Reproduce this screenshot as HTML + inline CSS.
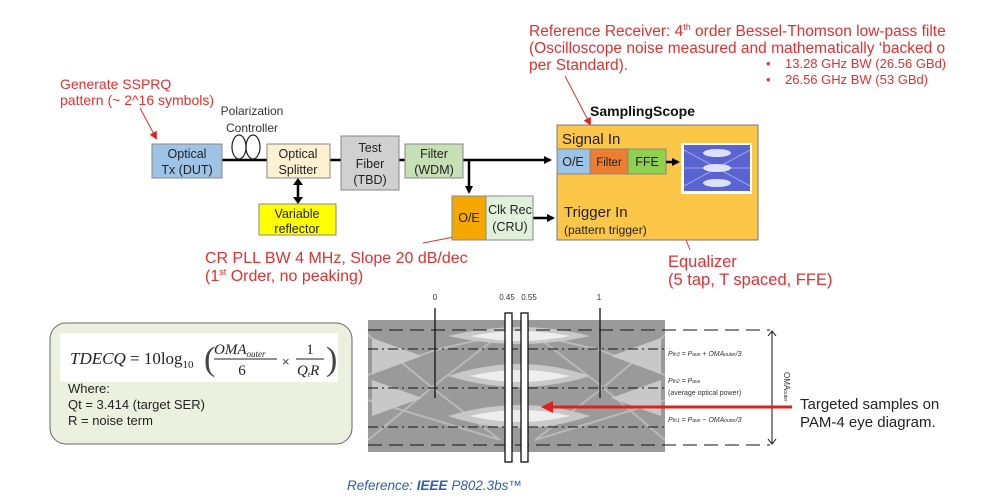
<!DOCTYPE html>
<html><head><meta charset="utf-8"><style>
body{margin:0;background:#fff;}
svg{display:block;font-family:"Liberation Sans",sans-serif;}
</style></head><body>
<svg width="1007" height="500" viewBox="0 0 1007 500" xmlns="http://www.w3.org/2000/svg">
<defs>
<marker id="ak" markerWidth="8" markerHeight="8" refX="6" refY="4" orient="auto" markerUnits="userSpaceOnUse"><path d="M0,0 L8,4 L0,8 z" fill="#000"/></marker>
<marker id="ar" markerWidth="8" markerHeight="8" refX="6" refY="4" orient="auto" markerUnits="userSpaceOnUse"><path d="M0,0 L8,4 L0,8 z" fill="#e02020"/></marker>
<marker id="ar2" markerWidth="12" markerHeight="12" refX="8" refY="6" orient="auto" markerUnits="userSpaceOnUse"><path d="M0,0 L12,6 L0,12 z" fill="#e02020"/></marker>
</defs>
<!-- top red text -->
<g fill="#e03030" font-size="15.5">
<text x="529" y="36">Reference Receiver:  4<tspan font-size="9" dy="-6">th</tspan><tspan dy="6"> order Bessel-Thomson low-pass filte</tspan></text>
<text x="529" y="53">(Oscilloscope noise measured and mathematically ‘backed o</text>
<text x="529" y="70">per Standard).</text>
<text x="766" y="68" font-size="13">•</text><text x="785" y="68" font-size="13">13.28 GHz BW (26.56 GBd)</text>
<text x="766" y="84" font-size="13">•</text><text x="785" y="84" font-size="13">26.56 GHz BW (53 GBd)</text>
<text x="60" y="89" font-size="14">Generate SSPRQ</text>
<text x="60" y="105" font-size="14">pattern (~ 2^16 symbols)</text>
<text x="205" y="263" font-size="16">CR PLL BW 4 MHz, Slope 20 dB/dec</text>
<text x="205" y="281" font-size="16">(1<tspan font-size="9" dy="-6">st</tspan><tspan dy="6"> Order, no peaking)</tspan></text>
<text x="668" y="267" font-size="16.5">Equalizer</text>
<text x="668" y="285" font-size="16.5">(5 tap, T spaced, FFE)</text>
</g>
<g stroke="#e03030" stroke-width="1">
<line x1="140" y1="108" x2="156" y2="138" marker-end="url(#ar)"/>
<line x1="565" y1="76" x2="590" y2="124" marker-end="url(#ar)"/>
<line x1="690" y1="250" x2="662" y2="178" marker-end="url(#ar)"/>
<line x1="423" y1="243" x2="490" y2="230" marker-end="url(#ar)"/>
</g>
<!-- polarization -->
<text x="252" y="115" font-size="12" fill="#333" text-anchor="middle">Polarization</text>
<text x="252" y="132" font-size="12" fill="#333" text-anchor="middle">Controller</text>
<!-- lines -->
<g stroke="#000" stroke-width="2.5" fill="none">
<line x1="222" y1="160" x2="268" y2="160"/>
<line x1="330" y1="160" x2="341" y2="160"/>
<line x1="399" y1="160" x2="405" y2="160"/>
<line x1="463" y1="160" x2="550" y2="160" marker-end="url(#ak)"/>
<line x1="469" y1="160" x2="469" y2="192" marker-end="url(#ak)"/>
<line x1="533" y1="218" x2="553" y2="218" marker-end="url(#ak)"/>
<line x1="298" y1="183" x2="298" y2="200"/>
</g>
<path d="M298,178 l-5,7 h10 z M298,204 l-5,-7 h10 z" fill="#000"/>
<g stroke="#222" stroke-width="1.2" fill="none">
<ellipse cx="239" cy="147" rx="7" ry="12"/>
<ellipse cx="253" cy="147" rx="7" ry="12"/>
</g>
<!-- boxes -->
<g stroke="#888" stroke-width="1">
<rect x="152" y="144" width="70" height="34" fill="#9dc3e6"/>
<rect x="267" y="144" width="63" height="34" fill="#fdf1d2"/>
<rect x="341" y="136" width="58" height="54" fill="#d0d0d0"/>
<rect x="405" y="144" width="58" height="34" fill="#c5e0b4"/>
<rect x="259" y="204" width="77" height="31" fill="#ffff00"/>
<rect x="452" y="196" width="34" height="44" fill="#f5a800"/>
<rect x="486" y="196" width="47" height="44" fill="#e2efda"/>
<rect x="557" y="125" width="201" height="115" fill="#fcc648" stroke="#777"/>
<rect x="557" y="149" width="33" height="25" fill="#9dc3e6"/>
<rect x="590" y="149" width="38" height="25" fill="#ed7d31"/>
<rect x="628" y="149" width="38" height="25" fill="#8fd14f"/>
</g>
<g font-size="12.5" fill="#222" text-anchor="middle">
<text x="187" y="158">Optical</text><text x="187" y="174">Tx (DUT)</text>
<text x="298" y="158">Optical</text><text x="298" y="174">Splitter</text>
<text x="370" y="152">Test</text><text x="370" y="168">Fiber</text><text x="370" y="184">(TBD)</text>
<text x="434" y="158">Filter</text><text x="434" y="174">(WDM)</text>
<text x="297" y="218">Variable</text><text x="297" y="233">reflector</text>
<text x="469" y="222">O/E</text>
<text x="510" y="214">Clk Rec</text><text x="510" y="231">(CRU)</text>
<text x="573" y="166">O/E</text>
<text x="609" y="166" font-size="11.5">Filter</text>
<text x="647" y="166">FFE</text>
</g>
<text x="590" y="116" font-size="14" font-weight="bold" fill="#111">SamplingScope</text>
<text x="562" y="144" font-size="15" fill="#222">Signal In</text>
<text x="564" y="217" font-size="15" fill="#222">Trigger In</text>
<text x="564" y="234" font-size="12" fill="#222">(pattern trigger)</text>
<line x1="666" y1="162" x2="678" y2="162" stroke="#000" stroke-width="2.5" marker-end="url(#ak)"/>
<rect x="681" y="143" width="71" height="51" fill="#fff"/>
<rect x="684" y="145" width="66" height="46" fill="#5a64d0"/>
<g stroke="#9aa0ee" stroke-width="1" fill="none"><path d="M684,150 L750,186 M684,186 L750,150 M684,168 L750,168"/></g>
<g fill="#dde0ff"><ellipse cx="717" cy="153" rx="14" ry="4"/><ellipse cx="717" cy="168" rx="14" ry="4"/><ellipse cx="717" cy="183" rx="14" ry="4"/></g>
<!-- formula box -->
<rect x="50" y="323" width="302" height="121" rx="16" fill="#ebf1de" stroke="#666"/>
<rect x="60" y="333" width="278" height="49" fill="#fff"/>
<text x="70" y="364" font-family="Liberation Serif,serif" font-size="17" fill="#222"><tspan font-style="italic">TDECQ</tspan> = 10log<tspan font-size="11" dy="4">10</tspan></text>
<text x="204" y="370" font-family="Liberation Serif,serif" font-size="34" fill="#444" font-weight="lighter">(</text>
<text x="326" y="370" font-family="Liberation Serif,serif" font-size="34" fill="#444">)</text>
<text x="214" y="354" font-family="Liberation Serif,serif" font-size="15" font-style="italic" fill="#222">OMA<tspan font-size="9" dy="3">outer</tspan></text>
<line x1="214" y1="359" x2="277" y2="359" stroke="#222"/>
<text x="242" y="375" font-family="Liberation Serif,serif" font-size="15" fill="#222" text-anchor="middle">6</text>
<text x="282" y="366" font-size="13" fill="#444">×</text>
<text x="310" y="354" font-family="Liberation Serif,serif" font-size="15" fill="#222" text-anchor="middle">1</text>
<line x1="296" y1="359" x2="324" y2="359" stroke="#222"/>
<text x="297" y="375" font-family="Liberation Serif,serif" font-size="15" font-style="italic" fill="#222">Q<tspan font-size="8" dy="2">t</tspan><tspan dy="-2">R</tspan></text>
<g font-size="13" fill="#222">
<text x="68" y="393">Where:</text>
<text x="68" y="409">Qt = 3.414 (target SER)</text>
<text x="68" y="425">R = noise term</text>
</g>
<!-- eye -->
<rect x="368" y="320" width="297" height="132" fill="#9a9a9a"/>
<g stroke="#c0c0c0" stroke-width="2" fill="none" opacity="0.8">
<path d="M368,335 L435,390 L500,440 M368,440 L435,385 L500,335 M368,375 L435,350 L500,335 M368,400 L435,420 L500,440"/>
<path d="M665,335 L600,390 L535,440 M665,440 L600,385 L535,335 M665,375 L600,350 L535,335 M665,400 L600,420 L535,440"/>
</g>
<g fill="#c8c8c8">
<path d="M448,336 Q520,318 590,336 Q520,352 448,336z"/>
<path d="M448,376 Q520,352 590,376 Q520,398 448,376z"/>
<path d="M448,416 Q520,394 590,416 Q520,440 448,416z"/>
<path d="M372,338 l50,18 -50,18z M372,380 l50,18 -50,18z M661,338 l-50,18 50,18z M661,380 l-50,18 50,18z"/>
</g>
<g fill="#eee">
<path d="M470,336 Q520,326 570,336 Q520,346 470,336z"/>
<path d="M470,376 Q520,364 570,376 Q520,388 470,376z"/>
<path d="M470,416 Q520,404 570,416 Q520,428 470,416z"/>
</g>
<g stroke="#111" stroke-width="1" fill="none">
<line x1="368" y1="330" x2="770" y2="330" stroke-dasharray="14,7"/>
<line x1="368" y1="445" x2="770" y2="445" stroke-dasharray="14,7"/>
<line x1="368" y1="349" x2="665" y2="349" stroke-dasharray="10,4,2,4"/>
<line x1="368" y1="388" x2="665" y2="388" stroke-dasharray="10,4,2,4"/>
<line x1="368" y1="427" x2="665" y2="427" stroke-dasharray="10,4,2,4"/>
<line x1="435" y1="308" x2="435" y2="398" stroke-width="1.3"/>
<line x1="600" y1="308" x2="600" y2="398" stroke-width="1.3"/>
<line x1="772" y1="332" x2="772" y2="443"/>
<path d="M768,336 l4,-5 4,5 M768,439 l4,5 4,-5"/>
</g>
<rect x="505" y="313" width="7" height="149" fill="#fff" stroke="#111" stroke-width="1.3"/>
<rect x="521" y="313" width="7" height="149" fill="#fff" stroke="#111" stroke-width="1.3"/>
<g font-size="8" fill="#333" text-anchor="middle">
<text x="435" y="300">0</text><text x="507" y="300">0.45</text><text x="529" y="300">0.55</text><text x="599" y="300">1</text>
</g>
<g font-size="7" fill="#333" font-style="italic">
<text x="668" y="356">P<tspan font-size="5">th3</tspan> = P<tspan font-size="5">ave</tspan> + OMA<tspan font-size="5">outer</tspan>/3</text>
<text x="668" y="383">P<tspan font-size="5">th2</tspan> = P<tspan font-size="5">ave</tspan></text>
<text x="668" y="395" font-style="normal">(average optical power)</text>
<text x="668" y="422">P<tspan font-size="5">th1</tspan> = P<tspan font-size="5">ave</tspan> − OMA<tspan font-size="5">outer</tspan>/3</text>
</g>
<text x="0" y="0" font-size="8" fill="#333" transform="translate(784,372) rotate(90)">OMA<tspan font-size="5">outer</tspan></text>
<line x1="792" y1="407" x2="545" y2="407" stroke="#e02020" stroke-width="3" marker-end="url(#ar2)"/>
<text x="800" y="409" font-size="15" fill="#222">Targeted samples on</text>
<text x="800" y="427" font-size="15" fill="#222">PAM-4 eye diagram.</text>
<text x="347" y="490" font-size="13.5" fill="#2e5fa8" font-style="italic">Reference:  <tspan font-weight="bold">IEEE</tspan> P802.3bs™</text>
</svg>
</body></html>
